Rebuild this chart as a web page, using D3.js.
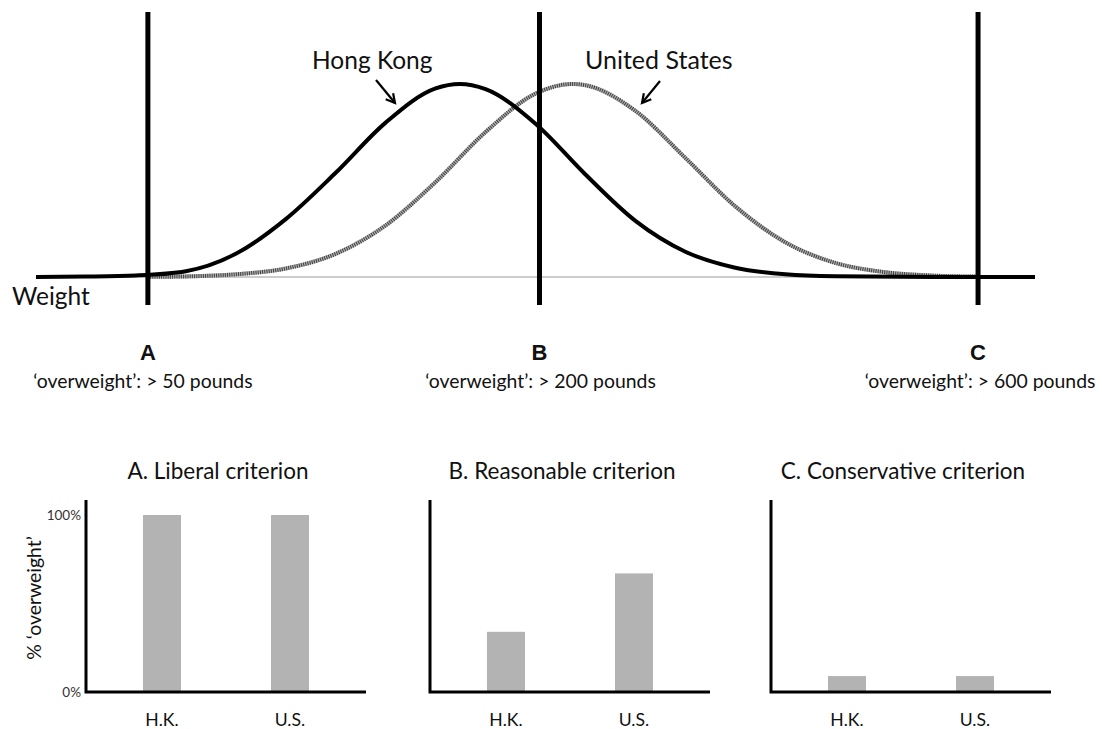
<!DOCTYPE html>
<html>
<head>
<meta charset="utf-8">
<script src="https://cdn.jsdelivr.net/npm/d3@7/dist/d3.min.js"></script>
<style>
  body { margin: 0; background: #fff; }
  text { font-family: Lato, "Open Sans", sans-serif; fill: #111; }
</style>
</head>
<body>
<svg id="chart" width="1102" height="729"></svg>
<script>
// top panel: weight distributions (abstract weight units 0..100, heights relative to peak)
var hkX = [0, 5, 10, 15, 20, 25, 30, 35, 40, 42.4, 45, 50, 55, 60, 65, 70, 75, 80, 90, 100];
var hkY = [0, 0.002, 0.008, 0.03, 0.12, 0.3, 0.54, 0.8, 0.977, 1, 0.973, 0.794, 0.531, 0.291, 0.131, 0.048, 0.014, 0.004, 0, 0];
var usX = [11.2, 15, 20, 25, 30, 35, 40, 45, 50, 53.7, 55, 60, 65, 70, 75, 80, 85, 90, 94.3];
var usY = [0.001, 0.003, 0.014, 0.044, 0.12, 0.267, 0.492, 0.751, 0.95, 1, 0.994, 0.861, 0.617, 0.366, 0.18, 0.073, 0.025, 0.007, 0.002];

var criteria = ["A", "B", "C"];
var criteriaX = [11.2, 50.4, 94.3];
var criteriaText = ["\u2018overweight\u2019: > 50 pounds", "\u2018overweight\u2019: > 200 pounds", "\u2018overweight\u2019: > 600 pounds"];

// bottom panels: % overweight per criterion
var panelTitles = ["A. Liberal criterion", "B. Reasonable criterion", "C. Conservative criterion"];
var countries = ["H.K.", "U.S."];
var pctHK = [100, 34, 9];
var pctUS = [100, 67, 9];

var svg = d3.select("#chart");

var x = d3.scaleLinear().domain([0, 100]).range([36, 1035]);
var y = d3.scaleLinear().domain([0, 1]).range([277, 84]);

var line = d3.line()
  .x(function (d) { return x(d[0]); })
  .y(function (d) { return y(d[1]); })
  .curve(d3.curveMonotoneX);

var topG = svg.append("g");

// thin baseline
topG.append("line")
  .attr("x1", x(0)).attr("x2", x(100))
  .attr("y1", y(0)).attr("y2", y(0))
  .attr("stroke", "#999").attr("stroke-width", 1);

var us = d3.zip(usX, usY);
var hk = d3.zip(hkX, hkY);

// United States: hatched grey line
topG.append("path").datum(us)
  .attr("d", line).attr("fill", "none")
  .attr("stroke", "#b0b0b0").attr("stroke-width", 4);
topG.append("path").datum(us)
  .attr("d", line).attr("fill", "none")
  .attr("stroke", "#404040").attr("stroke-width", 4)
  .attr("stroke-dasharray", "1,1.2");

// Hong Kong: solid black
topG.append("path").datum(hk)
  .attr("d", line).attr("fill", "none")
  .attr("stroke", "#000").attr("stroke-width", 4);

// criterion lines
topG.selectAll(".crit").data(criteriaX).enter().append("line")
  .attr("x1", function (d) { return x(d); })
  .attr("x2", function (d) { return x(d); })
  .attr("y1", 12).attr("y2", 305)
  .attr("stroke", "#000").attr("stroke-width", 5);

topG.selectAll(".critLetter").data(criteria).enter().append("text")
  .attr("x", function (d, i) { return x(criteriaX[i]); })
  .attr("y", 360)
  .attr("text-anchor", "middle")
  .style("font-family", "'Liberation Sans', Arial, sans-serif")
  .style("font-weight", "bold")
  .style("font-size", "22px")
  .text(function (d) { return d; });

topG.selectAll(".critText").data(criteriaText).enter().append("text")
  .attr("x", function (d, i) { return x(criteriaX[i]) + (i === 0 ? -5 : i === 1 ? 1 : 2); })
  .attr("y", 388)
  .attr("text-anchor", "middle")
  .style("font-size", "19.4px")
  .text(function (d) { return d; });

topG.append("text").attr("x", 12).attr("y", 305)
  .style("font-size", "24.5px").text("Weight");

topG.append("text").attr("x", 312).attr("y", 69)
  .style("font-size", "24.5px").text("Hong Kong");
topG.append("text").attr("x", 585).attr("y", 69)
  .style("font-size", "25px").text("United States");

// arrows
function arrow(x1, y1, x2, y2) {
  topG.append("line")
    .attr("x1", x1).attr("y1", y1).attr("x2", x2).attr("y2", y2)
    .attr("stroke", "#000").attr("stroke-width", 2.2);
  var a = Math.atan2(y2 - y1, x2 - x1), h = 10, s = 0.5;
  topG.append("path")
    .attr("d", "M" + [x2 - h * Math.cos(a - s), y2 - h * Math.sin(a - s)] +
      "L" + [x2, y2] +
      "L" + [x2 - h * Math.cos(a + s), y2 - h * Math.sin(a + s)])
    .attr("fill", "none").attr("stroke", "#000").attr("stroke-width", 2.2);
}
arrow(376, 80, 395, 103);
arrow(660, 81, 642, 103);

// bottom bar panels
var panelLeft = [86, 430, 771];
var panelW = 280;
var yb = d3.scaleLinear().domain([0, 100]).range([692, 515]);

panelTitles.forEach(function (title, i) {
  var g = svg.append("g").attr("transform", "translate(" + panelLeft[i] + ",0)");
  var xb = d3.scaleBand().domain(countries).range([0, panelW]).paddingInner(0.703).paddingOuter(0.445);
  var vals = [pctHK[i], pctUS[i]];

  g.selectAll("rect").data(vals).enter().append("rect")
    .attr("x", function (d, j) { return xb(countries[j]); })
    .attr("width", xb.bandwidth())
    .attr("y", function (d) { return yb(d); })
    .attr("height", function (d) { return yb(0) - yb(d); })
    .attr("fill", "#b3b3b3");

  g.append("path")
    .attr("d", "M0,500V" + yb(0) + "H" + panelW)
    .attr("fill", "none").attr("stroke", "#000").attr("stroke-width", 3);

  g.selectAll(".cat").data(countries).enter().append("text")
    .attr("x", function (d) { return xb(d) + xb.bandwidth() / 2; })
    .attr("y", 726)
    .attr("text-anchor", "middle")
    .style("font-size", "17.6px")
    .text(function (d) { return d; });

  g.append("text")
    .attr("x", panelW / 2 - 8).attr("y", 479)
    .attr("text-anchor", "middle")
    .style("font-size", "22.5px")
    .text(title);

  if (i === 0) {
    g.selectAll(".tick").data([100, 0]).enter().append("text")
      .attr("x", -5).attr("y", function (d) { return yb(d) + 5; })
      .attr("text-anchor", "end")
      .style("font-size", "13.5px").style("fill", "#333")
      .text(function (d) { return d + "%"; });
    g.append("text")
      .attr("transform", "translate(-45,598) rotate(-90)")
      .attr("text-anchor", "middle")
      .style("font-size", "19.4px")
      .text("% \u2018overweight\u2019");
  }
});
</script>
</body>
</html>
